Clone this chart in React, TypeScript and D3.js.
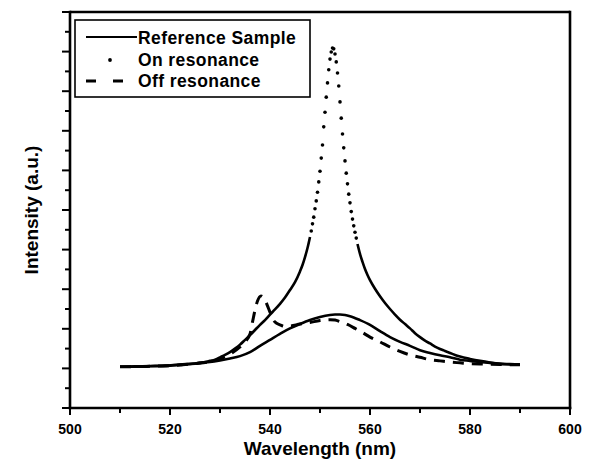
import React from "react";
import * as d3 from "d3";

// ---------- data ----------
const refWl = [510, 512, 515, 518, 520, 522, 524, 526, 528, 530, 532, 534, 536, 538, 540, 542, 544, 546, 548, 550, 552, 553, 554, 555, 556, 558, 560, 562, 564, 566, 568, 570, 572, 574, 576, 578, 580, 582, 584, 586, 588, 590];
const refVals = [1.04, 1.04, 1.05, 1.06, 1.07, 1.09, 1.11, 1.14, 1.16, 1.2, 1.25, 1.31, 1.41, 1.57, 1.72, 1.87, 2.01, 2.12, 2.22, 2.3, 2.35, 2.36, 2.36, 2.35, 2.32, 2.22, 2.1, 1.94, 1.79, 1.67, 1.57, 1.46, 1.39, 1.33, 1.28, 1.22, 1.19, 1.16, 1.14, 1.11, 1.1, 1.1];

const onWl = [510, 513, 516, 519, 522, 525, 526, 527, 528, 529, 530, 531, 532, 533, 534, 535, 536, 537, 538, 539, 540, 541, 542, 543, 544, 545, 546, 546.5, 547, 547.5, 548, 548.25, 548.5, 548.75, 549, 549.25, 549.5, 549.75, 550, 550.25, 550.5, 550.75, 551, 551.25, 551.5, 551.75, 552, 552.25, 552.5, 552.75, 553, 553.25, 553.5, 553.75, 554, 554.25, 554.5, 554.75, 555, 555.25, 555.5, 555.75, 556, 556.25, 556.5, 556.75, 557, 557.25, 557.5, 558, 558.5, 559, 559.5, 560, 561, 562, 563, 564, 565, 566, 567, 568, 569, 570, 571, 572, 573, 574, 575, 576, 577, 578, 580, 582, 584, 586, 588, 590];
const onVals = [1.04, 1.05, 1.06, 1.07, 1.1, 1.12, 1.14, 1.16, 1.19, 1.22, 1.28, 1.34, 1.41, 1.5, 1.6, 1.72, 1.84, 1.97, 2.1, 2.22, 2.36, 2.49, 2.63, 2.79, 2.98, 3.18, 3.45, 3.61, 3.81, 4.04, 4.32, 4.47, 4.65, 4.82, 5.03, 5.23, 5.45, 5.71, 5.98, 6.31, 6.64, 7.1, 7.47, 7.85, 8.21, 8.54, 8.81, 8.99, 9.09, 9.07, 8.94, 8.74, 8.46, 8.13, 7.73, 7.32, 6.92, 6.57, 6.24, 5.93, 5.66, 5.4, 5.18, 4.96, 4.77, 4.6, 4.44, 4.29, 4.14, 3.89, 3.69, 3.51, 3.36, 3.23, 3.01, 2.82, 2.65, 2.5, 2.36, 2.23, 2.12, 2.01, 1.89, 1.79, 1.7, 1.63, 1.55, 1.49, 1.44, 1.39, 1.34, 1.3, 1.24, 1.19, 1.15, 1.12, 1.11, 1.1];

const offWl = [510, 515, 520, 525, 528, 530, 532, 534, 535, 536, 536.5, 537, 537.5, 538.2, 539, 539.5, 540, 540.5, 541, 542, 543, 544, 546, 548, 550, 552, 553, 554, 555.5, 557, 558.7, 560, 562, 564, 566, 568, 570, 572, 574, 576, 578, 580, 583, 586, 590];
const offVals = [1.04, 1.05, 1.07, 1.12, 1.17, 1.24, 1.36, 1.54, 1.67, 1.87, 2.17, 2.47, 2.7, 2.83, 2.73, 2.58, 2.42, 2.27, 2.17, 2.1, 2.06, 2.07, 2.12, 2.16, 2.21, 2.23, 2.22, 2.18, 2.11, 2.01, 1.89, 1.79, 1.67, 1.54, 1.43, 1.34, 1.28, 1.22, 1.19, 1.16, 1.14, 1.12, 1.11, 1.1, 1.09];

const xTickLabels = [500, 520, 540, 560, 580, 600];
const xMinorTicks = [510, 530, 550, 570, 590];
const yMajorTicks = [0, 1, 2, 3, 4, 5, 6, 7, 8, 9, 10];
const yMinorTicks = [0.5, 1.5, 2.5, 3.5, 4.5, 5.5, 6.5, 7.5, 8.5, 9.5];

const legendLabels = ["Reference Sample", "On resonance", "Off resonance"];
const xTitle = "Wavelength (nm)";
const yTitle = "Intensity (a.u.)";

// ---------- layout ----------
const W = 591;
const H = 466;
const L = 70, R = 570, T = 12, B = 408;
const FONT = "'Liberation Sans', Arial, Helvetica, sans-serif";

export default function App() {
  const x = d3.scaleLinear().domain([500, 600]).range([L, R]);
  const y = d3.scaleLinear().domain([0, 10]).range([B, T]);

  const line = d3
    .line<[number, number]>()
    .x((d) => x(d[0]))
    .y((d) => y(d[1]))
    .curve(d3.curveMonotoneX);

  const refPts: [number, number][] = refWl.map((w, i) => [w, refVals[i]]);
  const onPts: [number, number][] = onWl.map((w, i) => [w, onVals[i]]);
  const offPts: [number, number][] = offWl.map((w, i) => [w, offVals[i]]);

  // On-resonance: the dense dots merge into a line where the curve is flat
  const onLeft = onPts.filter((d) => d[0] <= 548);
  const onRight = onPts.filter((d) => d[0] >= 557.5);
  const onDots = onPts.filter((d) => d[0] > 548 && d[0] < 557.5);

  return (
    <svg
      width={W}
      height={H}
      viewBox={`0 0 ${W} ${H}`}
      style={{ position: "absolute", left: 0, top: 0, background: "#fff" }}
      fontFamily={FONT}
    >
      <rect x={0} y={0} width={W} height={H} fill="#fff" />

      {/* curves */}
      <path d={line(refPts) || ""} fill="none" stroke="#000" strokeWidth={2.6} strokeLinejoin="round" />
      <path d={line(onLeft) || ""} fill="none" stroke="#000" strokeWidth={2.6} strokeLinejoin="round" />
      <path d={line(onRight) || ""} fill="none" stroke="#000" strokeWidth={2.6} strokeLinejoin="round" />
      {onDots.map((d, i) => (
        <circle key={i} cx={x(d[0])} cy={y(d[1])} r={1.8} fill="#000" />
      ))}
      <path
        d={line(offPts) || ""}
        fill="none"
        stroke="#000"
        strokeWidth={3}
        strokeDasharray="11 8"
        strokeLinecap="butt"
      />

      {/* frame */}
      <line x1={L} y1={T} x2={R} y2={T} stroke="#000" strokeWidth={2.4} />
      <line x1={R} y1={T - 1.2} x2={R} y2={B + 1.2} stroke="#000" strokeWidth={2.6} />
      <line x1={L} y1={T - 1.2} x2={L} y2={B + 1.2} stroke="#000" strokeWidth={2.6} />
      <line x1={L - 1.3} y1={B} x2={R + 1.3} y2={B} stroke="#000" strokeWidth={2.6} />

      {/* y ticks */}
      {yMajorTicks.map((t) => (
        <line key={"ym" + t} x1={L - 8} x2={L} y1={y(t)} y2={y(t)} stroke="#000" strokeWidth={2} />
      ))}
      {yMinorTicks.map((t) => (
        <line key={"yn" + t} x1={L - 5} x2={L} y1={y(t)} y2={y(t)} stroke="#000" strokeWidth={2} />
      ))}

      {/* x ticks */}
      {xTickLabels.map((t) => (
        <g key={"xm" + t}>
          <line x1={x(t)} x2={x(t)} y1={B} y2={B + 7} stroke="#000" strokeWidth={2} />
          <text x={x(t)} y={434} textAnchor="middle" fontSize={14} fontWeight="bold" fill="#000">
            {t}
          </text>
        </g>
      ))}
      {xMinorTicks.map((t) => (
        <line key={"xn" + t} x1={x(t)} x2={x(t)} y1={B} y2={B + 5} stroke="#000" strokeWidth={2} />
      ))}

      {/* axis titles */}
      <text x={(L + R) / 2} y={455} textAnchor="middle" fontSize={19} fontWeight="bold" fill="#000">
        {xTitle}
      </text>
      <text
        transform={`translate(38, 210) rotate(-90)`}
        textAnchor="middle"
        fontSize={19}
        fontWeight="bold"
        fill="#000"
      >
        {yTitle}
      </text>

      {/* legend */}
      <rect x={75} y={20} width={235} height={77} fill="#fff" stroke="#000" strokeWidth={1.6} />
      <line x1={86} x2={137} y1={37} y2={37} stroke="#000" strokeWidth={2.2} />
      <circle cx={110} cy={60} r={1.9} fill="#000" />
      <line x1={86} x2={124} y1={81} y2={81} stroke="#000" strokeWidth={3} strokeDasharray="10 17" />
      {legendLabels.map((lab, i) => (
        <text
          key={lab}
          x={138}
          y={44 + i * 21.5}
          fontSize={17.5}
          fontWeight="bold"
          letterSpacing={0.4}
          fill="#000"
        >
          {lab}
        </text>
      ))}
    </svg>
  );
}
